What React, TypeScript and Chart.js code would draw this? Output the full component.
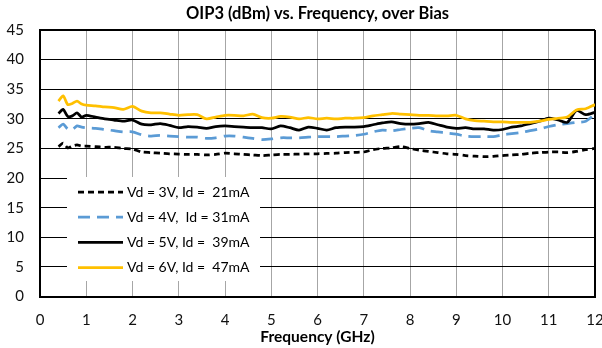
import React, { useEffect, useRef } from "react";
import { Chart, registerables } from "chart.js";

Chart.register(...registerables);

const FREQ_GHZ = [
  0.4, 0.5, 0.6, 0.7, 0.8, 0.9, 1.0, 1.2, 1.4, 1.6, 1.8, 2.0, 2.2, 2.4, 2.6, 2.8,
  3.0, 3.2, 3.4, 3.6, 3.8, 4.0, 4.2, 4.4, 4.6, 4.8, 5.0, 5.2, 5.4, 5.6, 5.8, 6.0,
  6.2, 6.4, 6.6, 6.8, 7.0, 7.2, 7.4, 7.6, 7.8, 8.0, 8.2, 8.4, 8.6, 8.8, 9.0, 9.2,
  9.4, 9.6, 9.8, 10.0, 10.2, 10.4, 10.6, 10.8, 11.0, 11.2, 11.4, 11.6, 11.8, 12.0,
];

const OIP3_3V = [
  25.3, 25.9, 25.1, 25.4, 25.6, 25.4, 25.4, 25.3, 25.2, 25.2, 25.0, 24.9, 24.4, 24.3, 24.2, 24.1,
  24.05, 24.0, 24.0, 23.9, 24.0, 24.2, 24.1, 24.0, 23.9, 23.8, 23.9, 24.0, 24.0, 24.05, 24.1, 24.1,
  24.15, 24.2, 24.3, 24.35, 24.4, 24.8, 25.0, 25.1, 25.3, 25.0, 24.7, 24.5, 24.3, 24.1, 24.0, 23.8,
  23.7, 23.6, 23.65, 23.8, 23.9, 24.0, 24.2, 24.3, 24.4, 24.4, 24.3, 24.5, 24.8, 25.0,
];

const OIP3_4V = [
  28.5, 29.1, 28.3, 28.2, 28.8, 28.6, 28.5, 28.4, 28.2, 28.0, 27.8, 27.8, 27.3, 27.1, 27.2, 27.1,
  27.0, 26.9, 26.9, 26.7, 26.8, 27.1, 27.1, 26.9, 26.7, 26.5, 26.6, 26.8, 26.8, 26.8, 26.9, 27.0,
  27.0, 27.0, 27.1, 27.2, 27.4, 27.8, 28.1, 28.0, 28.2, 28.4, 28.5, 28.0, 27.8, 27.6, 27.4, 27.1,
  27.0, 27.0, 27.0, 27.3, 27.5, 27.7, 28.0, 28.3, 28.7, 29.0, 29.2, 29.4, 29.6, 30.8,
];

const OIP3_5V = [
  30.9, 31.6, 30.4, 30.5, 31.0, 30.3, 30.6, 30.3, 30.0, 29.8, 29.6, 29.8, 29.1, 29.0, 29.2, 28.9,
  28.5, 28.7, 28.6, 28.4, 28.7, 28.8, 28.7, 28.6, 28.5, 28.5, 28.3, 28.8, 28.5, 28.1, 28.6, 28.4,
  28.1, 28.5, 28.6, 28.6, 28.7, 29.0, 29.3, 29.5, 29.2, 29.1, 29.2, 29.4, 29.0, 28.6, 28.4, 28.5,
  28.3, 28.3, 28.1, 28.2, 28.6, 28.8, 29.2, 29.6, 30.1, 29.8, 29.4, 31.4, 30.7, 31.1,
];

const OIP3_6V = [
  33.0, 33.9, 32.4, 32.6, 33.0, 32.5, 32.3, 32.2, 32.0, 31.9, 31.6, 32.1, 31.3, 31.0, 31.0, 30.8,
  30.6, 30.7, 30.7, 30.0, 30.3, 30.6, 30.6, 30.5, 30.8, 30.2, 30.1, 30.4, 30.3, 30.0, 30.2, 30.0,
  30.1, 30.0, 30.1, 30.1, 30.2, 30.5, 30.7, 30.9, 30.8, 30.7, 30.6, 30.6, 30.5, 30.5, 30.6, 30.0,
  29.7, 29.6, 29.5, 29.5, 29.4, 29.4, 29.4, 29.6, 29.9, 30.1, 30.3, 31.5, 31.7, 32.4,
];

const SERIES_LABELS = [
  "Vd = 3V, Id =  21mA",
  "Vd = 4V,  Id = 31mA",
  "Vd = 5V, Id =  39mA",
  "Vd = 6V, Id =  47mA",
];

const TITLE = "OIP3 (dBm) vs. Frequency, over Bias";
const X_TITLE = "Frequency (GHz)";

const FONT = "Lato, 'Open Sans', sans-serif";

const boxLegend = {
  id: "boxLegend",
  afterDatasetsDraw(chart: any) {
    const { ctx, chartArea } = chart;
    const x0 = chartArea.left + 27;
    const y0 = chartArea.top + 147;
    ctx.save();
    ctx.fillStyle = "#ffffff";
    ctx.fillRect(x0, y0, 193, 104);
    chart.data.datasets.forEach((ds: any, i: number) => {
      const y = y0 + 15 + i * 25.2;
      ctx.strokeStyle = ds.borderColor;
      ctx.lineWidth = ds.borderWidth;
      ctx.setLineDash(ds.borderDash || []);
      ctx.beginPath();
      ctx.moveTo(x0 + 11, y);
      ctx.lineTo(x0 + 56, y);
      ctx.stroke();
      ctx.setLineDash([]);
      ctx.fillStyle = "#000000";
      ctx.font = `14px ${FONT}`;
      ctx.textBaseline = "middle";
      ctx.textAlign = "left";
      ctx.fillText(ds.label, x0 + 60, y);
    });
    ctx.restore();
  },
};

export default function App() {
  const ref = useRef<HTMLCanvasElement | null>(null);

  useEffect(() => {
    if (!ref.current) return;
    const mk = (vals: number[]) => FREQ_GHZ.map((f, i) => ({ x: f, y: vals[i] }));
    const chart = new Chart(ref.current, {
      type: "line",
      data: {
        datasets: [
          {
            label: SERIES_LABELS[0],
            data: mk(OIP3_3V),
            borderColor: "#000000",
            borderWidth: 2.75,
            borderDash: [6, 4],
            order: 4,
          },
          {
            label: SERIES_LABELS[1],
            data: mk(OIP3_4V),
            borderColor: "#5B9BD5",
            borderWidth: 2.75,
            borderDash: [12, 7],
            order: 3,
          },
          {
            label: SERIES_LABELS[2],
            data: mk(OIP3_5V),
            borderColor: "#000000",
            borderWidth: 2.75,
            order: 2,
          },
          {
            label: SERIES_LABELS[3],
            data: mk(OIP3_6V),
            borderColor: "#FFC000",
            borderWidth: 2.75,
            order: 1,
          },
        ],
      },
      options: {
        animation: false,
        responsive: false,
        maintainAspectRatio: false,
        devicePixelRatio: 1,
        layout: { padding: { left: 0, right: 7, top: 0, bottom: 0 } },
        elements: {
          point: { radius: 0 },
          line: { tension: 0.25, fill: false },
        },
        plugins: {
          legend: { display: false },
          tooltip: { enabled: false },
          title: {
            display: true,
            text: TITLE,
            color: "#000000",
            font: { family: FONT, size: 16.5, weight: "bold" },
            padding: { top: 4, bottom: 6.2 },
            fullSize: false,
          },
        },
        scales: {
          x: {
            type: "linear",
            min: 0,
            max: 12,
            afterFit: (s: any) => {
              s.height = 51.5;
              s.paddingRight = 0;
              s.paddingLeft = 0;
            },
            ticks: {
              stepSize: 1,
              padding: 15,
              color: "#111111",
              font: { family: FONT, size: 15 },
              maxRotation: 0,
            },
            grid: {
              drawTicks: false,
              color: (c: any) => (c.tick && c.tick.value === 12 ? "#000000" : "#a6a6a6"),
              lineWidth: (c: any) => (c.tick && c.tick.value === 12 ? 2 : 1),
            },
            border: { color: "#000000", width: 2 },
            title: {
              display: true,
              text: X_TITLE,
              color: "#000000",
              font: { family: FONT, size: 15.5, weight: "bold" },
              padding: { top: 0, bottom: 1.5 },
            },
          },
          y: {
            min: 0,
            max: 45,
            afterFit: (s: any) => {
              s.width = 40;
            },
            ticks: {
              stepSize: 5,
              padding: 16,
              color: "#111111",
              font: { family: FONT, size: 15 },
            },
            grid: {
              drawTicks: false,
              color: "#000000",
              lineWidth: (c: any) => (c.tick && c.tick.value === 45 ? 2 : 1),
            },
            border: { color: "#000000", width: 2 },
          },
        },
      },
      plugins: [boxLegend],
    } as any);
    return () => chart.destroy();
  }, []);

  return (
    <div style={{ position: "absolute", left: 0, top: 0, width: 602, height: 348, background: "#fff" }}>
      <canvas ref={ref} width={602} height={348} style={{ width: 602, height: 348, display: "block" }} />
    </div>
  );
}
